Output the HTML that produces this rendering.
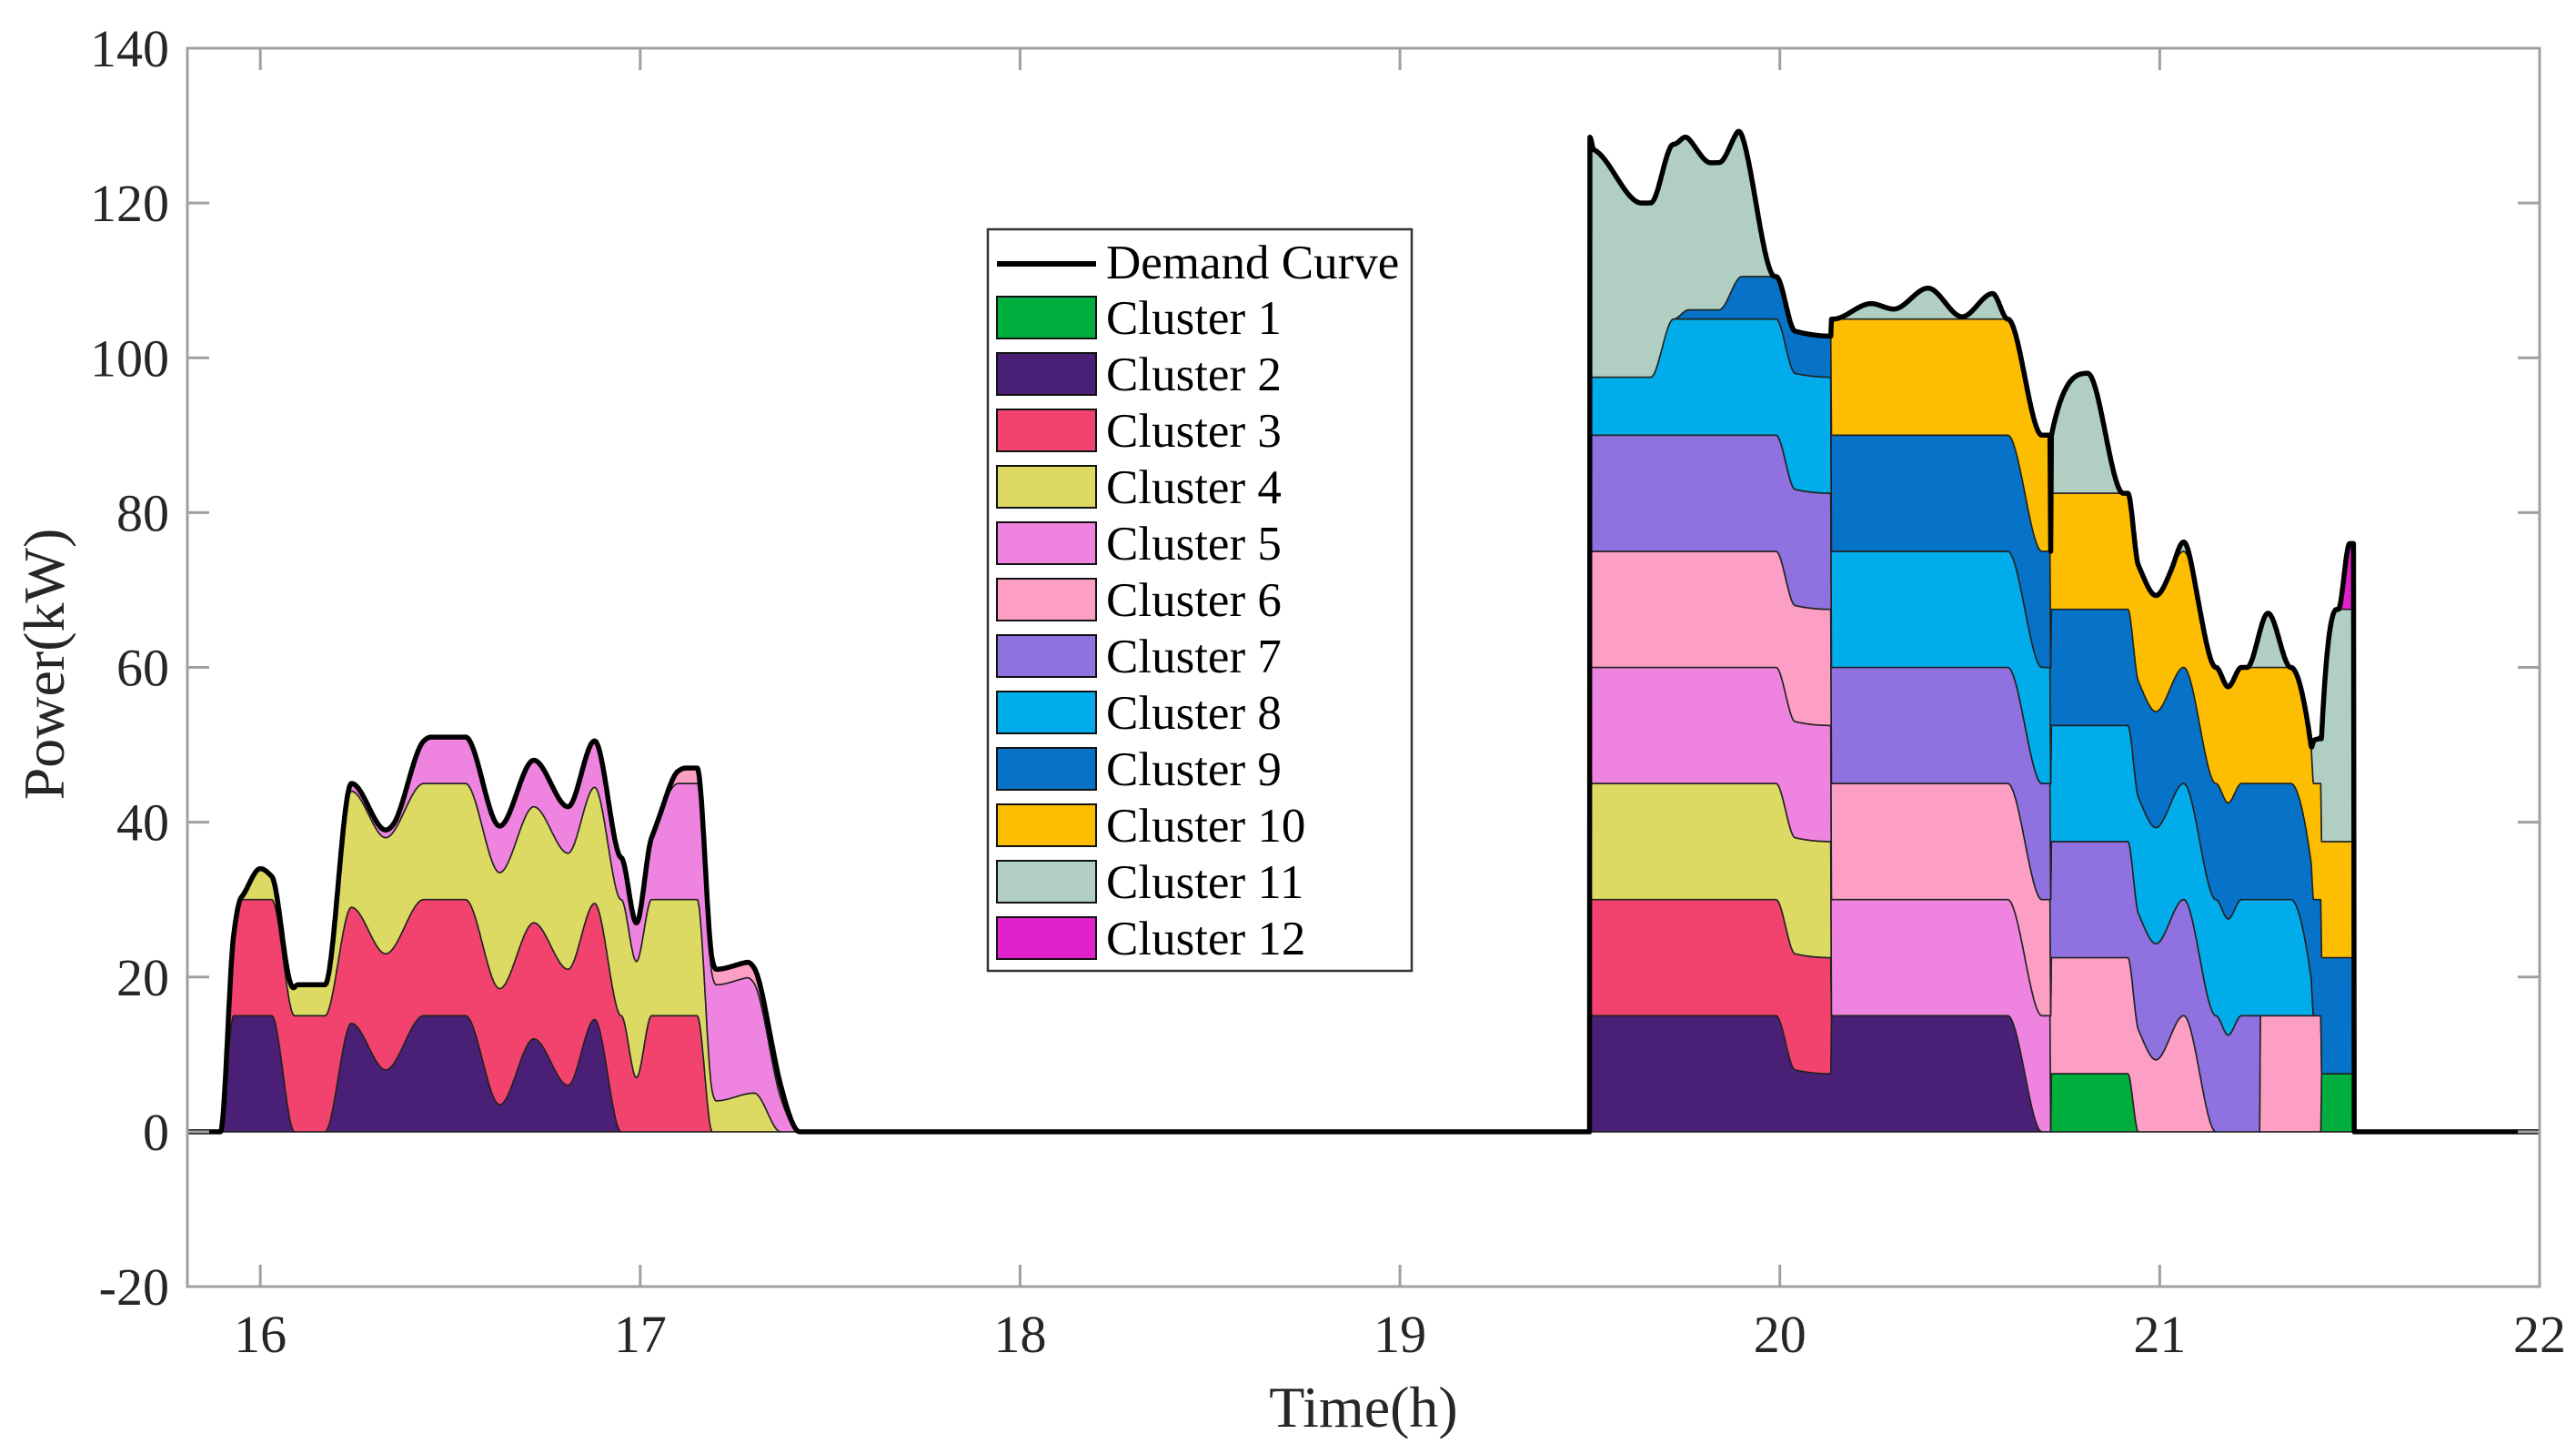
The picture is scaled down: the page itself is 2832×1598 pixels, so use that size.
<!DOCTYPE html>
<html><head><meta charset="utf-8"><style>
html,body{margin:0;padding:0;background:#fff;}
svg{display:block;font-family:"Liberation Serif",serif;}
</style></head><body>
<svg id="chart" width="2832" height="1598" viewBox="0 0 2832 1598" xmlns="http://www.w3.org/2000/svg">
<rect x="0" y="0" width="2832" height="1598" fill="#fff"/>
<g id="areas"></g>
<g id="lines"></g>
<g id="axes"></g>
<text x="1499" y="1568" font-size="64" text-anchor="middle" fill="#262626">Time(h)</text>
<text transform="translate(70,730) rotate(-90)" font-size="64" text-anchor="middle" fill="#262626">Power(kW)</text>
<g id="legend"></g>
</svg>
<script>
const clusterNames = ["Cluster 1","Cluster 2","Cluster 3","Cluster 4","Cluster 5","Cluster 6","Cluster 7","Cluster 8","Cluster 9","Cluster 10","Cluster 11","Cluster 12"];
const xTicks = [16,17,18,19,20,21,22];
const yTicks = [-20,0,20,40,60,80,100,120,140];
const c1T = [20.713,20.715,20.916,20.944,21.424,21.426,21.51,21.512];
const c1V = [0,7.5,7.5,0,0,7.5,7.5,0];
const c2T = [15.895,15.93,16.03,16.09,16.17,16.24,16.33,16.43,16.54,16.63,16.72,16.81,16.88,16.95,19.499,19.5,19.99,20.04,20.134,20.136,20.60,20.69];
const c2V = [0,15,15,0,0,14,8,15,15,3.5,12,6,14.5,0,0,15,15,8,7.5,15,15,0];
const c3T = [15.895,15.95,16.95,16.99,17.03,17.15,17.19,19.499,19.5,20.134,20.136];
const c3V = [0,15,15,7,15,15,0,0,15,15,0];
const c4T = [15.94,16.0,16.06,16.1,16.17,16.24,17.15,17.2,17.3,17.37,19.499,19.5,20.134,20.136];
const c4V = [0,4,2,4,4,15,15,4,5,0,0,15,15,0];
const c5T = [16.17,16.24,16.35,16.45,16.9,16.99,17.1,17.28,17.42,19.499,19.5,20.711,20.713];
const c5V = [0,1,1,6,6,5,15,15,0,0,15,15,0];
const c6T = [17.05,17.12,17.35,17.42,19.499,19.5,20.916,20.99,21.063,21.148,21.263,21.265,21.424,21.426];
const c6V = [0,2,2,0,0,15,15,9.3,15,0,0,15,15,0];
const c7T = [19.499,19.5,21.148,21.18,21.215,21.263,21.265];
const c7V = [0,15,15,12.5,15,15,0];
const c8T = [19.499,19.5,19.66,19.72,21.345,21.398,21.405];
const c8V = [0,7.5,7.5,15,15,5,0];
const c9T = [19.72,19.76,19.84,19.9,19.99,20.134,20.136,21.51,21.512];
const c9V = [0,1.2,1.2,5.5,5.5,5.3,15,15,0];
const c10T = [20.134,20.136,21.51,21.512];
const c10V = [0,15,15,0];
const c11T = [19.499,19.5,19.636,19.742,19.818,19.887,19.987,20.14,20.24,20.30,20.39,20.48,20.56,20.60,20.713,20.715,20.81,20.904,21.03,21.063,21.10,21.23,21.285,21.345,21.398,21.405,21.424,21.426,21.466,21.51,21.512];
const c11V = [0,29.5,22.5,22.6,19,19.1,0,0,2,1.3,4,0.3,3.3,0,0,7.5,15.5,0,0,1.2,0,0,7,0,0,5.5,6,13.5,30,30,0];
const c12T = [19.499,19.5,19.51,21.47,21.5,21.51,21.512];
const c12V = [0,1.5,0,0,8.5,8.5,0];

const colors = ["#00ae3e","#4a2077","#f2436f","#dcda62","#ef84e0","#fd9fc4","#8f72e0","#00adea","#0673c8","#fdbd00","#b0cfc2","#e020c8"];
const seriesT = [c1T,c2T,c3T,c4T,c5T,c6T,c7T,c8T,c9T,c10T,c11T,c12T];
const seriesV = [c1V,c2V,c3V,c4V,c5V,c6V,c7V,c8V,c9V,c10V,c11V,c12V];

const NS = "http://www.w3.org/2000/svg";
const xMin = 15.808, xMax = 22, yMin = -20, yMax = 140;
const L = 206, R = 2792, T = 53, B = 1414;
function X(t){ return L + (t - xMin) / (xMax - xMin) * (R - L); }
function Y(v){ return B - (v - yMin) / (yMax - yMin) * (B - T); }
function pchipSlopes(ts, vs){
  const n = ts.length, h = [], d = [], m = new Array(n).fill(0);
  for (let i = 0; i < n-1; i++){ h[i] = ts[i+1]-ts[i]; d[i] = (vs[i+1]-vs[i])/h[i]; }
  for (let i = 1; i < n-1; i++){
    if (d[i-1]*d[i] > 0){
      const w1 = 2*h[i]+h[i-1], w2 = h[i]+2*h[i-1];
      m[i] = (w1+w2)/(w1/d[i-1]+w2/d[i]);
    }
  }
  return m;
}
const slopes = seriesT.map((ts, i) => pchipSlopes(ts, seriesV[i]));
function interp(c, t){
  const ts = seriesT[c], vs = seriesV[c], m = slopes[c];
  if (t <= ts[0] || t >= ts[ts.length-1]) return 0;
  for (let i = 0; i < ts.length-1; i++){
    if (t >= ts[i] && t <= ts[i+1]){
      const h = ts[i+1]-ts[i], s = (t-ts[i])/h;
      const h00 = 2*s*s*s-3*s*s+1, h10 = s*s*s-2*s*s+s, h01 = -2*s*s*s+3*s*s, h11 = s*s*s-s*s;
      return Math.max(0, h00*vs[i] + h10*h*m[i] + h01*vs[i+1] + h11*h*m[i+1]);
    }
  }
  return 0;
}
function mk(tag, attrs){ const e = document.createElementNS(NS, tag); for (const k in attrs) e.setAttribute(k, attrs[k]); return e; }

const step = 0.001;
const grid = [];
for (let t = 15.85; t <= 21.56; t += step) grid.push(+t.toFixed(4));
const cum = grid.map(() => 0);
const areas = document.getElementById('areas');
for (let c = 0; c < 12; c++){
  const vals = grid.map(t => interp(c, t));
  const lower = cum.slice();
  const upper = cum.map((b, i) => b + vals[i]);
  let i = 0;
  while (i < grid.length){
    if (vals[i] > 1e-6){
      let j = i;
      while (j < grid.length && vals[j] > 1e-6) j++;
      const s = Math.max(0, i-1), e = Math.min(grid.length-1, j);
      let d = "";
      for (let k = s; k <= e; k++) d += (k === s ? "M" : "L") + X(grid[k]).toFixed(1) + "," + Y(upper[k]).toFixed(1);
      for (let k = e; k >= s; k--) d += "L" + X(grid[k]).toFixed(1) + "," + Y(lower[k]).toFixed(1);
      d += "Z";
      const p = mk('path', {d: d, fill: colors[c], stroke: "#222", "stroke-width": "1.6", "stroke-linejoin": "round"});
      
      
      areas.appendChild(p);
      i = j;
    } else i++;
  }
  for (let k = 0; k < cum.length; k++) cum[k] = upper[k];
}
const lines = document.getElementById('lines');
let dd = "M" + X(xMin) + "," + Y(0);
for (let k = 0; k < grid.length; k++) dd += "L" + X(grid[k]).toFixed(1) + "," + Y(cum[k]).toFixed(1);
dd += "L" + X(xMax) + "," + Y(0);
const dem = mk('path', {d: dd, fill: "none", stroke: "#000", "stroke-width": "5.5", "stroke-linejoin": "round"});


lines.appendChild(dem);

const axes = document.getElementById('axes');
const box = mk('rect', {x: L, y: T, width: R-L, height: B-T, fill: "none", stroke: "#a0a0a0", "stroke-width": "3"});


axes.appendChild(box);
xTicks.forEach(v => {
  const x = X(v);
  const t1 = mk('line', {x1: x, y1: B, x2: x, y2: B-24, stroke: "#a0a0a0", "stroke-width": "3"});
  
  
  axes.appendChild(t1);
  const t2 = mk('line', {x1: x, y1: T, x2: x, y2: T+24, stroke: "#a0a0a0", "stroke-width": "3"});
  
  
  axes.appendChild(t2);
  const lab = mk('text', {x: x, y: B + 72, "font-size": "58", "text-anchor": "middle", fill: "#262626"});
  
  
  lab.textContent = v;
  axes.appendChild(lab);
});
yTicks.forEach(v => {
  const y = Y(v);
  const t1 = mk('line', {x1: L, y1: y, x2: L+24, y2: y, stroke: "#a0a0a0", "stroke-width": "3"});
  
  
  axes.appendChild(t1);
  const t2 = mk('line', {x1: R, y1: y, x2: R-24, y2: y, stroke: "#a0a0a0", "stroke-width": "3"});
  
  
  axes.appendChild(t2);
  const lab = mk('text', {x: L - 20, y: y + 20, "font-size": "58", "text-anchor": "end", fill: "#262626"});
  
  
  lab.textContent = v;
  axes.appendChild(lab);
});

const lg = document.getElementById('legend');
const lbox = mk('rect', {x: 1086, y: 252, width: 466, height: 815, fill: "#fff", stroke: "#333", "stroke-width": "2.5"});


lg.appendChild(lbox);
const ln = mk('line', {x1: 1096, y1: 290, x2: 1205, y2: 290, stroke: "#000", "stroke-width": "6"});


lg.appendChild(ln);
const lt = mk('text', {x: 1216, y: 306, "font-size": "53", fill: "#000"});


lt.textContent = "Demand Curve";
lg.appendChild(lt);
clusterNames.forEach((n, i) => {
  const y = 326 + i * 62;
  const sw = mk('rect', {x: 1096, y: y, width: 109, height: 46, fill: colors[i], stroke: "#111", "stroke-width": "2"});
  
  
  lg.appendChild(sw);
  const tx = mk('text', {x: 1216, y: y + 41, "font-size": "53", fill: "#000"});
  
  
  tx.textContent = n;
  lg.appendChild(tx);
});
</script>
</body></html>
